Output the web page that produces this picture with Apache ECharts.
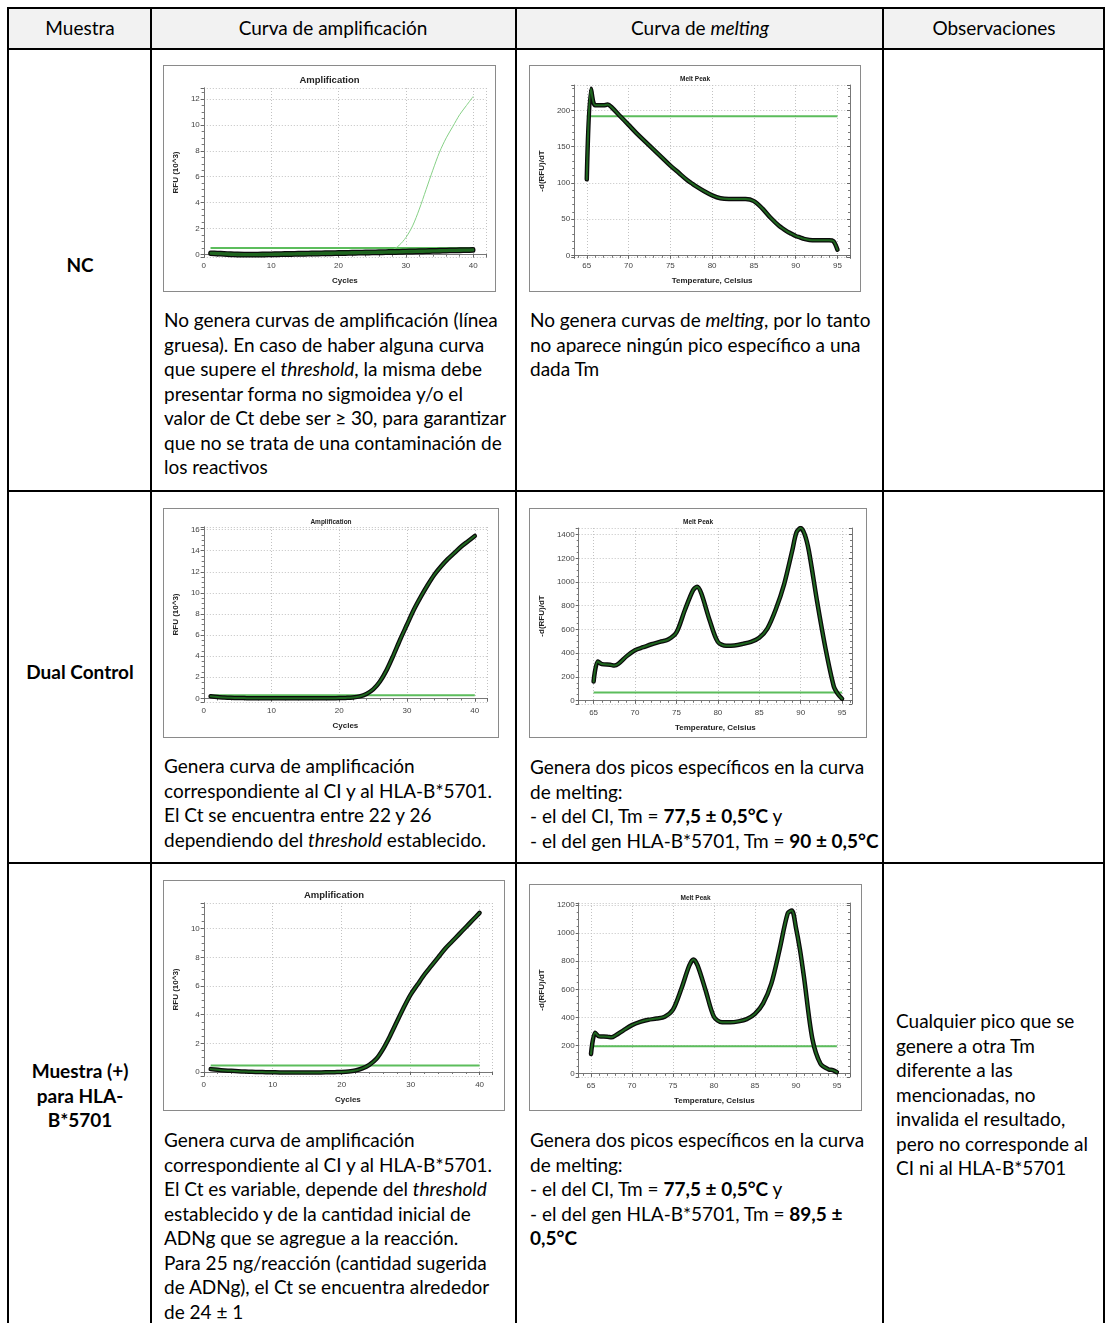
<!DOCTYPE html>
<html>
<head>
<meta charset="utf-8">
<script src="https://cdn.jsdelivr.net/npm/echarts@6/dist/echarts.min.js"></script>
<style>
html, body { margin: 0; padding: 0; background: #fff; width: 1106px; height: 1323px; overflow: hidden; }
body { position: relative; font-family: Lato, 'Open Sans', sans-serif; color: #000; }
.ln { position: absolute; background: #000; }
.head { position: absolute; background: #f2f2f2; }
.t { position: absolute; font-size: 19px; line-height: 24.5px; white-space: nowrap; }
.c { text-align: center; transform: translateX(-50%); }
.b { font-weight: bold; }
.chart { position: absolute; border: 1px solid #8a8a8a; box-sizing: border-box; background: #fff; }
</style>
</head>
<body>
<!-- header background + table rules -->
<div class="head" style="left:9px;top:9px;width:1094px;height:39px"></div>
<div class="ln" style="left:7px;top:7px;width:1098px;height:2px"></div>
<div class="ln" style="left:7px;top:48px;width:1098px;height:2px"></div>
<div class="ln" style="left:7px;top:490px;width:1098px;height:2px"></div>
<div class="ln" style="left:7px;top:862px;width:1098px;height:2px"></div>
<div class="ln" style="left:7px;top:7px;width:2px;height:1330px"></div>
<div class="ln" style="left:150px;top:7px;width:2px;height:1330px"></div>
<div class="ln" style="left:515px;top:7px;width:2px;height:1330px"></div>
<div class="ln" style="left:882px;top:7px;width:2px;height:1330px"></div>
<div class="ln" style="left:1103px;top:7px;width:2px;height:1330px"></div>

<div class="t c" style="left:80px;top:16px">Muestra</div>
<div class="t c" style="left:333px;top:16px">Curva de amplificación</div>
<div class="t c" style="left:700px;top:16px">Curva de <i>melting</i></div>
<div class="t c" style="left:994px;top:16px">Observaciones</div>

<div class="t c b" style="left:80px;top:253px">NC</div>
<div class="t" style="left:164px;top:308px">No genera curvas de amplificación (línea<br>gruesa). En caso de haber alguna curva<br>que supere el <i>threshold</i>, la misma debe<br>presentar forma no sigmoidea y/o el<br>valor de Ct debe ser ≥ 30, para garantizar<br>que no se trata de una contaminación de<br>los reactivos</div>
<div class="t" style="left:530px;top:308px">No genera curvas de <i>melting</i>, por lo tanto<br>no aparece ningún pico específico a una<br>dada Tm</div>

<div class="t c b" style="left:80px;top:660px">Dual Control</div>
<div class="t" style="left:164px;top:754px">Genera curva de amplificación<br>correspondiente al CI y al HLA-B*5701.<br>El Ct se encuentra entre 22 y 26<br>dependiendo del <i>threshold</i> establecido.</div>
<div class="t" style="left:530px;top:755px">Genera dos picos específicos en la curva<br>de melting:<br>- el del CI, Tm = <b>77,5 ± 0,5°C</b> y<br>- el del gen HLA-B*5701, Tm = <b>90 ± 0,5°C</b></div>

<div class="t c b" style="left:80px;top:1059px">Muestra (+)<br>para HLA-<br>B*5701</div>
<div class="t" style="left:164px;top:1128px">Genera curva de amplificación<br>correspondiente al CI y al HLA-B*5701.<br>El Ct es variable, depende del <i>threshold</i><br>establecido y de la cantidad inicial de<br>ADNg que se agregue a la reacción.<br>Para 25 ng/reacción (cantidad sugerida<br>de ADNg), el Ct se encuentra alrededor<br>de 24 ± 1</div>
<div class="t" style="left:530px;top:1128px">Genera dos picos específicos en la curva<br>de melting:<br>- el del CI, Tm = <b>77,5 ± 0,5°C</b> y<br>- el del gen HLA-B*5701, Tm = <b>89,5 ±<br>0,5°C</b></div>
<div class="t" style="left:896px;top:1009px">Cualquier pico que se<br>genere a otra Tm<br>diferente a las<br>mencionadas, no<br>invalida el resultado,<br>pero no corresponde al<br>CI ni al HLA-B*5701</div>

<div id="ampNC" class="chart" style="left:163px;top:65px;width:333px;height:227px"></div>
<div id="meltNC" class="chart" style="left:529px;top:65px;width:332px;height:227px"></div>
<div id="ampDual" class="chart" style="left:163px;top:508px;width:336px;height:230px"></div>
<div id="meltDual" class="chart" style="left:529px;top:508px;width:338px;height:230px"></div>
<div id="ampPos" class="chart" style="left:163px;top:880px;width:342px;height:231px"></div>
<div id="meltPos" class="chart" style="left:529px;top:884px;width:333px;height:227px"></div>

<script>
// amplification curves, RFU (10^3) per cycle
const cycles = [1,2,3,4,5,6,7,8,9,10,11,12,13,14,15,16,17,18,19,20,
  21,22,23,24,25,26,27,28,29,30,31,32,33,34,35,36,37,38,39,40]
const ncAmpA = [0.13,0.11,0.09,0.07,0.05,0.04,0.04,0.04,0.05,0.06,
  0.07,0.08,0.09,0.1,0.11,0.12,0.13,0.14,0.15,0.16,
  0.17,0.18,0.19,0.2,0.21,0.22,0.23,0.24,0.25,0.27,
  0.28,0.3,0.31,0.32,0.34,0.35,0.36,0.37,0.38,0.4]
const ncAmpB = [0.05,0.02,-0.01,-0.04,-0.06,-0.07,-0.07,-0.07,-0.06,-0.05,
  -0.04,-0.03,-0.02,-0.01,0,0.01,0.02,0.03,0.04,0.05,
  0.06,0.07,0.08,0.09,0.1,0.11,0.12,0.13,0.14,0.16,
  0.17,0.19,0.2,0.22,0.23,0.25,0.26,0.27,0.28,0.3]
const ncAmpRise = [0.1,0.09,0.08,0.07,0.06,0.06,0.06,0.06,0.07,0.07,
  0.08,0.08,0.09,0.09,0.1,0.1,0.11,0.11,0.12,0.12,
  0.13,0.13,0.14,0.15,0.16,0.18,0.22,0.35,0.7,1.3,
  2.2,3.5,5.0,6.5,7.9,9.0,9.9,10.8,11.5,12.2]
const dualAmp = [0.2,0.12,0.08,0.05,0.03,0.02,0.01,0.01,0,0,
  0,0,0,0,0,0,0,0,0.01,0.02,
  0.04,0.08,0.18,0.42,0.85,1.6,2.7,4.1,5.6,7.0,
  8.4,9.6,10.7,11.7,12.5,13.2,13.8,14.4,14.9,15.4]
const posAmp = [0.2,0.15,0.11,0.08,0.05,0.03,0.01,0,-0.01,-0.02,
  -0.03,-0.03,-0.03,-0.03,-0.03,-0.03,-0.03,-0.02,-0.01,0,
  0.03,0.1,0.25,0.5,0.9,1.6,2.5,3.5,4.5,5.4,
  6.1,6.8,7.4,8.0,8.6,9.1,9.6,10.1,10.6,11.1]

// melt peak curves, -d(RFU)/dT per temperature
const meltTemps = [65,65.5,66,67,67.5,68,69,70,71,72,73,74,75,76,77,77.5,78,79,80,81,
  82,83,84,85,86,87,88,89,89.5,90,90.5,91,92,93,94,94.5,95]
const ncMelt = [105,230,207,207,208,204,192,180,168,157,146,135,124,114,104,100,96,89,83,79,
  78,78,78,75,65,52,41,33,30,27,25,23,21,21,21,20,8]
const dualMelt = [160,330,308,302,295,310,375,425,450,475,495,515,575,760,930,960,905,680,495,462,
  465,478,495,530,610,770,980,1270,1420,1455,1400,1260,830,440,120,55,15]
const posMelt = [140,290,265,263,258,272,310,345,368,383,392,405,455,600,770,812,770,590,405,365,
  365,372,388,425,500,640,880,1140,1160,1040,880,680,250,70,30,25,10]

// thresholds: NC, Dual Control, Muestra (+)
const ampThreshold = [0.49, 0.28, 0.46]
const meltThreshold = [192, 68, 194]

const tickFmt = step => v => (Math.abs(v / step - Math.round(v / step)) < 1e-6 ? String(Math.round(v)) : '')

function axisPair(o, isX) {
  const main = {
    type: 'value', min: o.min, max: o.max, splitNumber: o.split,
    axisLine: { show: true, lineStyle: { color: '#777', width: 1 } },
    axisTick: { show: true, length: 3, lineStyle: { color: '#666' } },
    minorTick: { show: true, splitNumber: o.minor, length: 2, lineStyle: { color: '#777' } },
    axisLabel: { formatter: tickFmt(o.step), fontSize: 8, color: '#444', margin: isX ? 5 : 4, fontFamily: 'Liberation Sans' },
    splitLine: { show: true, lineStyle: { color: '#c2c2c2', width: 1, type: [1, 2] } },
    name: o.name, nameLocation: 'middle', nameGap: o.gap,
    nameTextStyle: { fontSize: 8, fontWeight: 'bold', color: '#222', fontFamily: 'Liberation Sans' }
  }
  if (!isX) main.nameRotate = 90
  const mirror = {
    type: 'value', min: o.min, max: o.max, splitNumber: o.split,
    position: isX ? 'top' : 'right',
    axisLine: { show: true, lineStyle: { color: '#777', width: 1 } },
    axisTick: { show: true, inside: true, length: 3, lineStyle: { color: '#666' } },
    minorTick: { show: true, splitNumber: o.minor, length: 2, lineStyle: { color: '#777' } },
    axisLabel: { show: false },
    splitLine: { show: false }
  }
  return [main, mirror]
}

function makeChart(id, c) {
  const chart = echarts.init(document.getElementById(id))
  const pts = ys => c.xs.map((x, i) => [x, ys[i]])
  const series = [{
    type: 'line', symbol: 'none', silent: true, z: 2,
    data: [[c.xs[0], c.threshold], [c.xs[c.xs.length - 1], c.threshold]],
    lineStyle: { color: '#5cbd5c', width: 2 }
  }]
  if (c.thin) {
    series.push({ type: 'line', symbol: 'none', smooth: 0.3, z: 3, data: pts(c.thin),
      lineStyle: { color: '#86d086', width: 1 } })
  }
  c.thick.forEach(ys => {
    series.push({ type: 'line', symbol: 'none', smooth: 0.3, z: 4, data: pts(ys),
      lineStyle: { color: '#0b0b0b', width: 4.5, cap: 'round', join: 'round' } })
    series.push({ type: 'line', symbol: 'none', smooth: 0.3, z: 5, data: pts(ys),
      lineStyle: { color: '#1f661f', width: 2, cap: 'round', join: 'round' } })
  })
  chart.setOption({
    animation: false,
    title: {
      text: c.title, left: 'center', top: c.titleTop,
      textStyle: { fontSize: c.titleSize, fontWeight: 'bold', color: '#222', fontFamily: 'Liberation Sans' }
    },
    grid: c.grid,
    xAxis: axisPair(c.x, true),
    yAxis: axisPair(c.y, false),
    series: series
  })
}

makeChart('ampNC', {
  title: 'Amplification', titleTop: 4, titleSize: 9.5,
  grid: { left: 37, top: 22, width: 285, height: 169 },
  x: { min: 0, max: 41.9, split: 5, step: 10, minor: 5, name: 'Cycles', gap: 20 },
  y: { min: -0.2, max: 12.85, split: 7, step: 2, minor: 4, name: 'RFU (10^3)', gap: 21 },
  xs: cycles, thin: ncAmpRise, thick: [ncAmpB, ncAmpA], threshold: ampThreshold[0]
})
makeChart('meltNC', {
  title: 'Melt Peak', titleTop: 5, titleSize: 6.5,
  grid: { left: 40, top: 19, width: 280, height: 172 },
  x: { min: 63.5, max: 96.5, split: 5, step: 5, minor: 5, name: 'Temperature, Celsius', gap: 20 },
  y: { min: -2, max: 235, split: 5, step: 50, minor: 5, name: '-d(RFU)/dT', gap: 23 },
  xs: meltTemps, thick: [ncMelt], threshold: meltThreshold[0]
})
makeChart('ampDual', {
  title: 'Amplification', titleTop: 5, titleSize: 6.5,
  grid: { left: 37, top: 18, width: 286, height: 175 },
  x: { min: 0, max: 41.8, split: 5, step: 10, minor: 5, name: 'Cycles', gap: 20 },
  y: { min: -0.35, max: 16.25, split: 8, step: 2, minor: 4, name: 'RFU (10^3)', gap: 21 },
  xs: cycles, thick: [dualAmp], threshold: ampThreshold[1]
})
makeChart('meltDual', {
  title: 'Melt Peak', titleTop: 5, titleSize: 6.5,
  grid: { left: 44, top: 19, width: 278, height: 176 },
  x: { min: 63.2, max: 96.2, split: 5, step: 5, minor: 5, name: 'Temperature, Celsius', gap: 20 },
  y: { min: -29, max: 1456, split: 7, step: 200, minor: 4, name: '-d(RFU)/dT', gap: 27 },
  xs: meltTemps, thick: [dualMelt], threshold: meltThreshold[1]
})
makeChart('ampPos', {
  title: 'Amplification', titleTop: 4, titleSize: 9.5,
  grid: { left: 38, top: 22, width: 290, height: 173 },
  x: { min: 0, max: 41.8, split: 5, step: 10, minor: 5, name: 'Cycles', gap: 20 },
  y: { min: -0.28, max: 11.79, split: 6, step: 2, minor: 4, name: 'RFU (10^3)', gap: 21 },
  xs: cycles, thick: [posAmp], threshold: ampThreshold[2]
})
makeChart('meltPos', {
  title: 'Melt Peak', titleTop: 5, titleSize: 6.5,
  grid: { left: 44, top: 18, width: 276, height: 174 },
  x: { min: 63.5, max: 96.6, split: 5, step: 5, minor: 5, name: 'Temperature, Celsius', gap: 20 },
  y: { min: -24, max: 1214, split: 6, step: 200, minor: 4, name: '-d(RFU)/dT', gap: 27 },
  xs: meltTemps, thick: [posMelt], threshold: meltThreshold[2]
})
</script>
</body>
</html>
